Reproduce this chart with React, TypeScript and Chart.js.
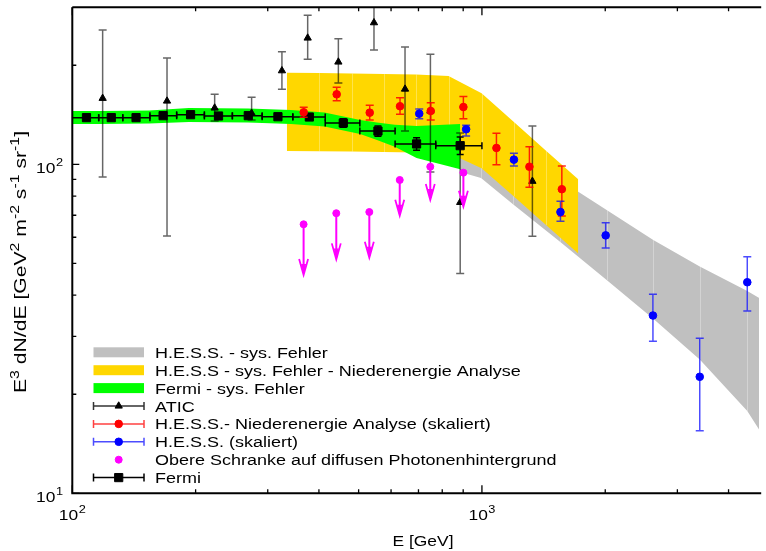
import React, { useEffect, useRef } from "react";
import { Chart, registerables } from "chart.js";
Chart.register(...registerables);

// ---------- axis ranges & ticks ----------
const X_MIN = 100;
const X_MAX = 4752;
const Y_MIN = 10;
const Y_MAX = 300;
const xMajorTicks = [100, 1000];
const xMinorTicks = [200, 300, 400, 500, 600, 700, 800, 900, 2000, 3000, 4000];
const yMajorTicks = [10, 100];
const yMinorTicks = [20, 30, 40, 50, 60, 70, 80, 90, 200];
const xTickLabelValues = [100, 1000];
const xTickLabelExps = ["2", "3"];
const yTickLabelValues = [10, 100];
const yTickLabelExps = ["1", "2"];
const xTitle = "E [GeV]";
const yTitleParts: [string, boolean][] = [
  ["E", false], ["3", true], [" dN/dE [GeV", false], ["2", true], [" m", false], ["-2", true],
  [" s", false], ["-1", true], [" sr", false], ["-1", true], ["]", false],
];

// ---------- bands ----------
const grayE = [885, 995, 1193, 1551, 2016, 2620, 3402, 4444, 4752];
const grayLo = [94.8, 90.9, 75.5, 58.1, 44.5, 33.9, 25.5, 17.8, 15.6];
const grayHi = [114.5, 108.2, 103.1, 89.6, 72.6, 58.9, 48.9, 41.2, 39.2];

const goldE = [334, 400.6, 480.4, 575.4, 690, 829, 998, 1195, 1436, 1718];
const goldHi = [189.8, 189.3, 188.8, 188.1, 187.5, 185.5, 164.4, 134.7, 109.8, 90];
const goldLo = [109.8, 109.5, 109.3, 109, 108.6, 108.2, 97.2, 79.9, 65.3, 53.6];

const greenE = [100, 116.7, 154.1, 192.5, 268.9, 341.7, 412.7, 504.3, 554.3, 612.8, 692.5, 885];
const greenHi = [145.2, 145.2, 145.7, 148.3, 147.8, 146.2, 143.7, 136.3, 134, 131.9, 130.8, 132.6];
const greenLo = [132.6, 132.6, 133, 134.5, 134, 132.6, 130.2, 123.6, 118.6, 113.1, 104.5, 96.6];

// ---------- ATIC ----------
const aticE = [118.6, 170.3, 222.6, 274, 324.9, 375.5, 446.2, 545.1, 649, 748.6, 885, 1328];
const aticFlux = [158.7, 155.7, 148.3, 142.9, 192.5, 242, 204.6, 269.4, 169.3, 145.2, 76.6, 88.8];
const aticHi = [256, 210.4, 163.2, 159.8, 219.9, 283.7, 240.9, 310, 227.3, 216, 124.5, 130.8];
const aticLo = [91.5, 60.5, 135.4, 136.3, 169, 208.5, 176.6, 222.6, 126.2, 94.8, 46.6, 60.4];

// ---------- Fermi ----------
const fermiE = [108.3, 124.5, 143.1, 166.6, 194.4, 227.5, 268.9, 317.7, 379, 458.7, 557.4, 692.5, 884.9];
const fermiFlux = [138.6, 138.6, 138.6, 140.5, 141.5, 140.2, 140.5, 139.5, 139.2, 133.5, 126.2, 115.3, 113.9];
const fermiHi = [140.7, 140.7, 140.7, 142.6, 143.6, 142.3, 142.6, 141.6, 141.4, 137.5, 130.7, 120.3, 121];
const fermiLo = [136.5, 136.5, 136.5, 138.4, 139.4, 138.1, 138.4, 137.4, 137, 129.5, 121.7, 110.3, 107];
const fermiBinLo = [100, 116, 132.8, 154.7, 179.8, 210.1, 245.9, 290.7, 345.4, 414.4, 503.5, 613.8, 771.3];
const fermiBinHi = [116, 132.8, 154.7, 179.8, 210.1, 245.9, 290.7, 345.4, 414.4, 503.5, 613.8, 771.3, 1000];

// ---------- H.E.S.S. low energy (red) ----------
const redE = [367.2, 442, 532.2, 631, 750, 901, 1085, 1306, 1567];
const redFlux = [143.9, 163.2, 143.5, 150.1, 145.2, 149.3, 112.1, 98.3, 84];
const redHi = [149, 171.4, 151.1, 159.4, 153.9, 160.6, 124.3, 113.1, 98.8];
const redLo = [139, 156.1, 136.3, 141.9, 136.3, 137.6, 99.7, 85.1, 69.6];

// ---------- H.E.S.S. (blue) ----------
const blueE = [703, 915, 1197, 1555, 2005, 2615, 3402, 4444];
const blueFlux = [142.5, 127.8, 103.3, 71.6, 60.8, 34.7, 22.6, 43.8];
const blueHi = [147.3, 131.4, 108, 77.2, 66.4, 40.3, 29.6, 52.4];
const blueLo = [137.6, 121.9, 98.8, 67.1, 55.7, 29, 15.5, 35.8];

// ---------- upper limits (magenta) ----------
const ulE = [367, 441, 531, 630, 748, 901];
const ulFlux = [65.7, 71, 71.6, 89.6, 98.3, 94.3];
const ulArrowTo = [46.1, 51.4, 52, 69.8, 77.9, 74.3];

// ---------- legend ----------
const legendLabels = [
  "H.E.S.S. - sys. Fehler",
  "H.E.S.S - sys. Fehler - Niederenergie Analyse",
  "Fermi - sys. Fehler",
  "ATIC",
  "H.E.S.S.- Niederenergie Analyse (skaliert)",
  "H.E.S.S. (skaliert)",
  "Obere Schranke auf diffusen Photonenhintergrund",
  "Fermi",
];

const GRAY = "#c0c0c0";
const GOLD = "#ffd700";
const GREEN = "#00ff00";
const RED = "#ff0000";
const BLUE = "#0000ff";
const MAGENTA = "#ff00ff";
const FONT = "'Liberation Sans', Arial, Helvetica, sans-serif";
const SX = 1.16; // horizontal text stretch

const pts = (xs: number[], ys: number[]) => xs.map((x, i) => ({ x, y: ys[i] }));

function stretchedText(ctx: CanvasRenderingContext2D, t: string, x: number, y: number, font: string) {
  ctx.save();
  ctx.font = font;
  ctx.textAlign = "left";
  ctx.textBaseline = "alphabetic";
  ctx.translate(x, y);
  ctx.scale(SX, 1);
  ctx.fillText(t, 0, 0);
  ctx.restore();
}
function textW(ctx: CanvasRenderingContext2D, t: string, font: string) {
  ctx.save();
  ctx.font = font;
  const w = ctx.measureText(t).width * SX;
  ctx.restore();
  return w;
}

function drawMarker(ctx: CanvasRenderingContext2D, style: string, x: number, y: number, r: number, color: string) {
  ctx.save();
  ctx.fillStyle = color;
  ctx.strokeStyle = color;
  ctx.lineWidth = 1;
  ctx.beginPath();
  if (style === "circle") {
    ctx.arc(x, y, r, 0, Math.PI * 2);
  } else if (style === "rect") {
    const s = r * Math.SQRT1_2;
    ctx.rect(x - s, y - s, 2 * s, 2 * s);
  } else if (style === "triangle") {
    let rad = 0;
    ctx.moveTo(x + Math.sin(rad) * r, y - Math.cos(rad) * r);
    rad += (2 * Math.PI) / 3;
    ctx.lineTo(x + Math.sin(rad) * r, y - Math.cos(rad) * r);
    rad += (2 * Math.PI) / 3;
    ctx.lineTo(x + Math.sin(rad) * r, y - Math.cos(rad) * r);
    ctx.closePath();
  }
  ctx.fill();
  ctx.stroke();
  ctx.restore();
}

const errorBarPlugin = {
  id: "errorBars",
  beforeDatasetDraw(chart: any, args: any) {
    const ds: any = chart.data.datasets[args.index];
    if (!ds.errLo && !ds.xLo && !ds.arrowTo) return;
    const { ctx, chartArea: a } = chart;
    const xs = chart.scales.x;
    const ys = chart.scales.y;
    ctx.save();
    ctx.beginPath();
    ctx.rect(a.left, a.top, a.right - a.left, a.bottom - a.top);
    ctx.clip();
    ctx.strokeStyle = ds.errColor;
    ctx.fillStyle = ds.errColor;
    ctx.lineWidth = ds.errWidth || 1.5;
    const cap = ds.capHalf || 4;
    ds.data.forEach((p: any, i: number) => {
      const px = xs.getPixelForValue(p.x);
      const py = ys.getPixelForValue(p.y);
      ctx.beginPath();
      if (ds.errLo) {
        const y1 = ys.getPixelForValue(ds.errLo[i]);
        const y2 = ys.getPixelForValue(ds.errHi[i]);
        ctx.moveTo(px, y1); ctx.lineTo(px, y2);
        ctx.moveTo(px - cap, y1); ctx.lineTo(px + cap, y1);
        ctx.moveTo(px - cap, y2); ctx.lineTo(px + cap, y2);
      }
      if (ds.xLo) {
        const x1 = xs.getPixelForValue(ds.xLo[i]);
        const x2 = xs.getPixelForValue(ds.xHi[i]);
        ctx.moveTo(x1, py); ctx.lineTo(x2, py);
        ctx.moveTo(x1, py - cap); ctx.lineTo(x1, py + cap);
        ctx.moveTo(x2, py - cap); ctx.lineTo(x2, py + cap);
      }
      if (ds.arrowTo) {
        const yt = ys.getPixelForValue(ds.arrowTo[i]);
        ctx.moveTo(px, py); ctx.lineTo(px, yt - 2);
        ctx.stroke();
        ctx.lineWidth = 1.8;
        ctx.beginPath();
        ctx.moveTo(px - 4.5, yt - 16);
        ctx.lineTo(px, yt);
        ctx.lineTo(px + 4.5, yt - 16);
        ctx.stroke();
        ctx.beginPath();
        ctx.moveTo(px - 2.5, yt - 11);
        ctx.lineTo(px, yt);
        ctx.lineTo(px + 2.5, yt - 11);
        ctx.closePath();
        ctx.fill();
        ctx.lineWidth = ds.errWidth || 1.5;
        ctx.beginPath();
      }
      ctx.stroke();
    });
    ctx.restore();
  },
  afterDatasetDraw(chart: any, args: any) {
    const ds: any = chart.data.datasets[args.index];
    if (!ds.seams) return;
    const { ctx } = chart;
    const xs = chart.scales.x;
    const ys = chart.scales.y;
    ctx.save();
    ctx.strokeStyle = "rgba(255,255,255,0.3)";
    ctx.lineWidth = 1;
    for (let i = 1; i < ds.data.length - 1; i++) {
      const px = Math.round(xs.getPixelForValue(ds.data[i].x)) + 0.5;
      ctx.beginPath();
      ctx.moveTo(px, ys.getPixelForValue(ds.data[i].y));
      ctx.lineTo(px, ys.getPixelForValue(ds.seams[i]));
      ctx.stroke();
    }
    ctx.restore();
  },
};

function drawPow(ctx: CanvasRenderingContext2D, exp: string, x: number, y: number, align: string) {
  const fb = `15px ${FONT}`;
  const fe = `11px ${FONT}`;
  const wb = textW(ctx, "10", fb);
  const we = textW(ctx, exp, fe);
  const total = wb + we + 0.5;
  const x0 = align === "center" ? x - total / 2 : x - total;
  stretchedText(ctx, "10", x0, y, fb);
  stretchedText(ctx, exp, x0 + wb + 0.5, y - 7, fe);
}

const axesPlugin = {
  id: "axesText",
  afterDraw(chart: any) {
    const { ctx, chartArea: a } = chart;
    const xs = chart.scales.x;
    const ys = chart.scales.y;
    ctx.save();
    ctx.strokeStyle = "#000";
    ctx.lineWidth = 2;
    ctx.beginPath();
    ctx.moveTo(a.left, a.top);
    ctx.lineTo(a.left, a.bottom);
    ctx.lineTo(a.right + 2, a.bottom);
    ctx.moveTo(a.left, a.top);
    ctx.lineTo(a.right + 2, a.top);
    ctx.stroke();

    ctx.lineWidth = 1.3;
    ctx.beginPath();
    const xt = (v: number, len: number) => {
      const px = xs.getPixelForValue(v);
      ctx.moveTo(px, a.bottom); ctx.lineTo(px, a.bottom - len);
      ctx.moveTo(px, a.top); ctx.lineTo(px, a.top + len);
    };
    const yt = (v: number, len: number) => {
      const py = ys.getPixelForValue(v);
      ctx.moveTo(a.left, py); ctx.lineTo(a.left + len, py);
    };
    xMajorTicks.forEach((v) => xt(v, 8));
    xMinorTicks.forEach((v) => xt(v, 4));
    yMajorTicks.forEach((v) => yt(v, 7));
    yMinorTicks.forEach((v) => yt(v, 4));
    ctx.stroke();

    ctx.fillStyle = "#000";
    xTickLabelValues.forEach((v, i) => drawPow(ctx, xTickLabelExps[i], xs.getPixelForValue(v), 520, "center"));
    yTickLabelValues.forEach((v, i) => drawPow(ctx, yTickLabelExps[i], 63, ys.getPixelForValue(v) + 9, "right"));

    // x title
    const xf = `15px ${FONT}`;
    const xw = textW(ctx, xTitle, xf);
    stretchedText(ctx, xTitle, 423 - xw / 2, 546, xf);

    // y title (rotated, with superscripts), stretched along its length
    ctx.save();
    ctx.translate(26, 262);
    ctx.rotate(-Math.PI / 2);
    ctx.textAlign = "left";
    ctx.textBaseline = "alphabetic";
    const fBase = `16px ${FONT}`;
    const fSup = `12px ${FONT}`;
    let total = 0;
    yTitleParts.forEach(([t, sup]) => {
      ctx.font = sup ? fSup : fBase;
      total += ctx.measureText(t).width;
    });
    const along = 262 / total;
    ctx.scale(along, 1);
    let cx = -total / 2;
    yTitleParts.forEach(([t, sup]) => {
      ctx.font = sup ? fSup : fBase;
      ctx.fillText(t, cx, sup ? -7.5 : 0);
      cx += ctx.measureText(t).width;
    });
    ctx.restore();

    // legend
    const lx1 = 93.5, lx2 = 144, lmx = 118.7, tx = 155;
    const row = (i: number) => 352.3 + 17.9 * i;
    const bandColors = [GRAY, GOLD, GREEN];
    bandColors.forEach((c, i) => {
      ctx.fillStyle = c;
      ctx.fillRect(lx1, row(i) - 5, lx2 - lx1, 10);
    });
    const lineEntry = (i: number, color: string, marker: string, r: number, mColor: string) => {
      const y = row(i);
      ctx.strokeStyle = color;
      ctx.lineWidth = 1.5;
      ctx.beginPath();
      ctx.moveTo(lx1, y); ctx.lineTo(lx2, y);
      ctx.moveTo(lx1, y - 4); ctx.lineTo(lx1, y + 4);
      ctx.moveTo(lx2, y - 4); ctx.lineTo(lx2, y + 4);
      ctx.stroke();
      drawMarker(ctx, marker, lmx, y, r, mColor);
    };
    lineEntry(3, "rgba(0,0,0,0.8)", "triangle", 4.2, "#000");
    lineEntry(4, "rgba(255,0,0,0.75)", "circle", 3.8, RED);
    lineEntry(5, "rgba(0,0,255,0.7)", "circle", 3.8, BLUE);
    drawMarker(ctx, "circle", lmx, row(6), 3.5, MAGENTA);
    lineEntry(7, "#000", "rect", 5.8, "#000");

    ctx.fillStyle = "#000";
    const lf = `15.5px ${FONT}`;
    legendLabels.forEach((t, i) => stretchedText(ctx, t, tx, row(i) + 5.5, lf));
    ctx.restore();
  },
};

export default function App() {
  const ref = useRef<HTMLCanvasElement>(null);
  useEffect(() => {
    const bandBase = { borderWidth: 0, pointRadius: 0, showLine: true, tension: 0 };
    const chart = new Chart(ref.current as HTMLCanvasElement, {
      type: "line",
      data: {
        datasets: [
          { ...bandBase, label: "grayLo", data: pts(grayE, grayLo), fill: false, order: 30 },
          { ...bandBase, label: "grayHi", data: pts(grayE, grayHi), fill: "-1", backgroundColor: GRAY, order: 30, seams: grayLo },
          { ...bandBase, label: "goldLo", data: pts(goldE, goldLo), fill: false, order: 20 },
          { ...bandBase, label: "goldHi", data: pts(goldE, goldHi), fill: "-1", backgroundColor: GOLD, order: 20, seams: goldLo },
          { ...bandBase, label: "greenLo", data: pts(greenE, greenLo), fill: false, order: 10 },
          { ...bandBase, label: "greenHi", data: pts(greenE, greenHi), fill: "-1", backgroundColor: GREEN, order: 10 },
          {
            label: "ATIC", data: pts(aticE, aticFlux), showLine: false, pointStyle: "triangle", pointRadius: 4.2,
            backgroundColor: "#000", borderColor: "#000", pointBorderWidth: 1,
            errLo: aticLo, errHi: aticHi, errColor: "rgba(0,0,0,0.6)", order: 6,
          },
          {
            label: "Fermi", data: pts(fermiE, fermiFlux), showLine: false, pointStyle: "rect", pointRadius: 5.8,
            backgroundColor: "#000", borderColor: "#000", pointBorderWidth: 1,
            errLo: fermiLo, errHi: fermiHi, xLo: fermiBinLo, xHi: fermiBinHi, errColor: "#000", capHalf: 3.5, order: 5,
          },
          {
            label: "HESS LE", data: pts(redE, redFlux), showLine: false, pointStyle: "circle", pointRadius: 3.8,
            backgroundColor: RED, borderColor: RED, pointBorderWidth: 1,
            errLo: redLo, errHi: redHi, errColor: "rgba(255,0,0,0.85)", order: 4,
          },
          {
            label: "HESS", data: pts(blueE, blueFlux), showLine: false, pointStyle: "circle", pointRadius: 3.8,
            backgroundColor: BLUE, borderColor: BLUE, pointBorderWidth: 1,
            errLo: blueLo, errHi: blueHi, errColor: "rgba(0,0,255,0.7)", order: 3,
          },
          {
            label: "UL", data: pts(ulE, ulFlux), showLine: false, pointStyle: "circle", pointRadius: 3.5,
            backgroundColor: MAGENTA, borderColor: MAGENTA, pointBorderWidth: 1,
            arrowTo: ulArrowTo, errColor: MAGENTA, errWidth: 2, order: 2,
          },
        ] as any,
      },
      options: {
        animation: false,
        responsive: false,
        maintainAspectRatio: false,
        devicePixelRatio: 1,
        layout: { padding: { left: 72.3, right: 0, top: 7.3, bottom: 57.7 } },
        scales: {
          x: { type: "logarithmic", min: X_MIN, max: X_MAX, display: false },
          y: { type: "logarithmic", min: Y_MIN, max: Y_MAX, display: false },
        },
        plugins: { legend: { display: false }, tooltip: { enabled: false } },
        events: [],
      } as any,
      plugins: [errorBarPlugin, axesPlugin],
    });
    return () => chart.destroy();
  }, []);
  return (
    <div style={{ position: "fixed", left: 0, top: 0, width: 766, height: 551, background: "#fff" }}>
      <canvas ref={ref} width={766} height={551} style={{ display: "block", width: 766, height: 551 }} />
    </div>
  );
}
